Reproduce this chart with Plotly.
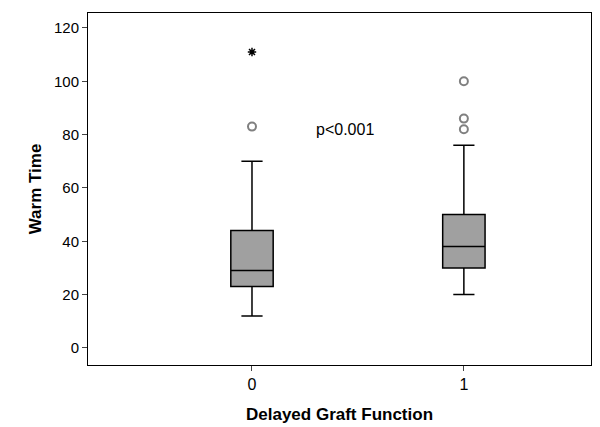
import plotly.graph_objects as go

groups = [0, 1]
q1 = [23, 30]
median = [29, 38]
q3 = [44, 50]
lower = [12, 20]
upper = [70, 76]
circle_x = [0, 1, 1, 1]
circle_y = [83, 100, 86, 82]
star_x = [0]
star_y = [111]

fig = go.Figure()
fig.add_trace(go.Box(x=groups, q1=q1, median=median, q3=q3, lowerfence=lower, upperfence=upper,
                     fillcolor="#a0a0a0", line=dict(color="black", width=1.5), width=0.2,
                     whiskerwidth=0.5, boxpoints=False, showlegend=False))
fig.add_trace(go.Scatter(x=circle_x, y=circle_y, mode="markers", showlegend=False,
                         marker=dict(symbol="circle-open", size=8, color="#808080", line=dict(width=2))))
fig.add_trace(go.Scatter(x=star_x, y=star_y, mode="markers", showlegend=False,
                         marker=dict(symbol="asterisk-open", size=7, color="black", line=dict(width=1.5))))
fig.add_annotation(x=0.44, y=82, text="p<0.001", showarrow=False, font=dict(size=16, color="black"))
fig.update_layout(
    width=600, height=427, plot_bgcolor="white", paper_bgcolor="white",
    margin=dict(l=80, r=17, t=5, b=70),
    font=dict(family="Arial, Liberation Sans", color="black"),
    xaxis=dict(range=[-0.774, 1.6], tickvals=[0, 1], ticktext=["0", "1"], showline=True, mirror=True,
               linecolor="black", ticks="outside", ticklen=5, tickfont=dict(size=16), automargin=False,
               title=dict(text="<b>Delayed Graft Function</b>", font=dict(size=17), standoff=15), showgrid=False, zeroline=False),
    yaxis=dict(range=[-6.4, 125.6], tickvals=[0, 20, 40, 60, 80, 100, 120], showline=True, mirror=True,
               linecolor="black", ticks="outside", ticklen=5, tickfont=dict(size=15), automargin=False,
               title=dict(text="<b>Warm Time</b>", font=dict(size=17), standoff=8), showgrid=False, zeroline=False),
)
fig.write_html("out.html")
